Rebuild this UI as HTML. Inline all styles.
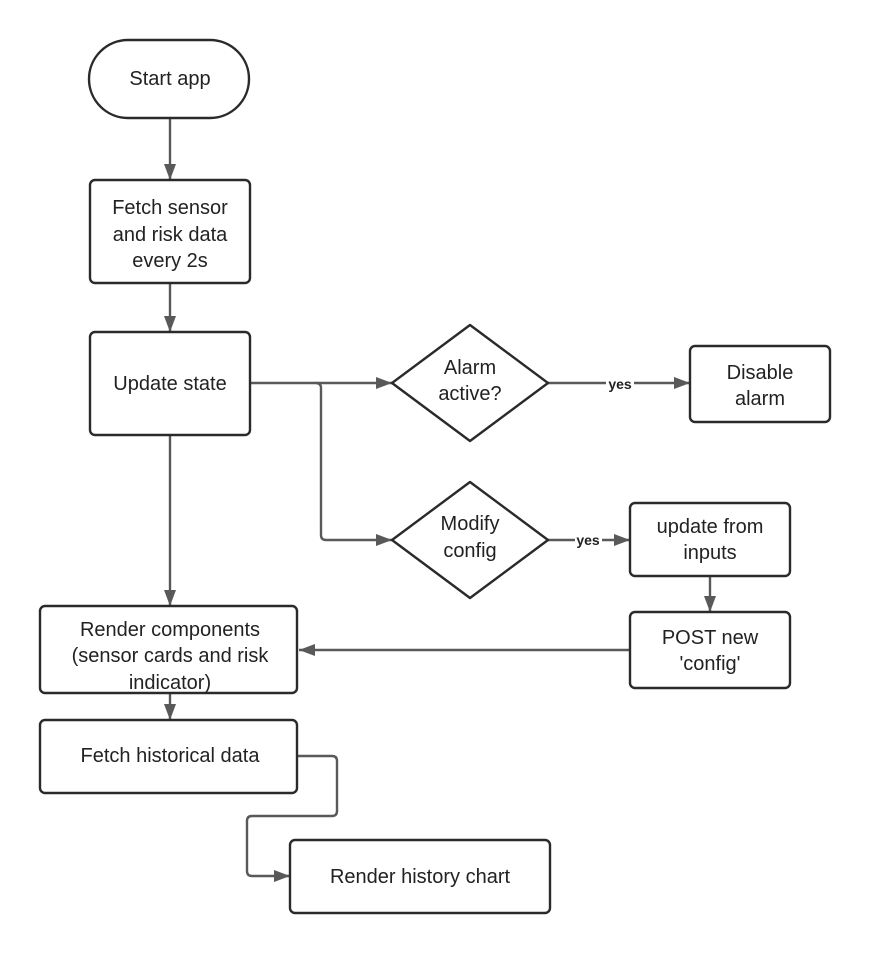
<!DOCTYPE html>
<html><head><style>html,body{margin:0;padding:0;background:#fff}</style></head><body>
<svg width="870" height="953" viewBox="0 0 870 953" xmlns="http://www.w3.org/2000/svg" font-family="Liberation Sans, Arial, sans-serif" font-size="20" fill="#222">
<defs>
<marker id="b" viewBox="0 0 16 12" markerWidth="16" markerHeight="12" refX="16" refY="6" orient="auto" markerUnits="userSpaceOnUse"><path d="M0,0 L16,6 L0,12 z" fill="#595959"/></marker></defs>
<g stroke="#595959" stroke-width="2.4" fill="none">
<path d="M170,118 V180" marker-end="url(#b)"/>
<path d="M170,283 V332" marker-end="url(#b)"/>
<path d="M250,383 H392" marker-end="url(#b)"/>
<path d="M316,383 Q321,383 321,388 V535 Q321,540 326,540 H392" marker-end="url(#b)"/>
<path d="M548,383 H606"/>
<path d="M634,383 H690" marker-end="url(#b)"/>
<path d="M548,540 H575"/>
<path d="M602,540 H630" marker-end="url(#b)"/>
<path d="M710,576 V612" marker-end="url(#b)"/>
<path d="M630,650 H299" marker-end="url(#b)"/>
<path d="M170,435 V606" marker-end="url(#b)"/>
<path d="M170,693 V720" marker-end="url(#b)"/>
<path d="M297,756 H332 Q337,756 337,761 V811 Q337,816 332,816 H252 Q247,816 247,821 V871 Q247,876 252,876 H290" marker-end="url(#b)"/>
</g>
<g stroke="#2a2a2a" stroke-width="2.4" fill="#fff">
<rect x="89" y="40" width="160" height="78" rx="39"/>
<rect x="90" y="180" width="160" height="103" rx="5"/>
<rect x="90" y="332" width="160" height="103" rx="5"/>
<path d="M470,325 L548,383 L470,441 L392,383 Z" stroke-linejoin="round"/>
<rect x="690" y="346" width="140" height="76" rx="5"/>
<path d="M470,482 L548,540 L470,598 L392,540 Z" stroke-linejoin="round"/>
<rect x="630" y="503" width="160" height="73" rx="5"/>
<rect x="630" y="612" width="160" height="76" rx="5"/>
<rect x="40" y="606" width="257" height="87" rx="5"/>
<rect x="40" y="720" width="257" height="73" rx="5"/>
<rect x="290" y="840" width="260" height="73" rx="5"/>
</g>
<g text-anchor="middle">
<text x="170" y="85">Start app</text>
<text x="170" y="214">Fetch sensor</text>
<text x="170" y="241">and risk data</text>
<text x="170" y="267">every 2s</text>
<text x="170" y="390">Update state</text>
<text x="470" y="374">Alarm</text>
<text x="470" y="400">active?</text>
<text x="760" y="379">Disable</text>
<text x="760" y="405">alarm</text>
<text x="470" y="530">Modify</text>
<text x="470" y="557">config</text>
<text x="710" y="533">update from</text>
<text x="710" y="559">inputs</text>
<text x="710" y="644">POST new</text>
<text x="710" y="670">'config'</text>
<text x="170" y="636">Render components</text>
<text x="170" y="662">(sensor cards and risk</text>
<text x="170" y="689">indicator)</text>
<text x="170" y="762">Fetch historical data</text>
<text x="420" y="883">Render history chart</text>
<text x="620" y="389" font-size="14" font-weight="bold">yes</text>
<text x="588" y="545" font-size="14" font-weight="bold">yes</text>
</g>
</svg>
</body></html>
